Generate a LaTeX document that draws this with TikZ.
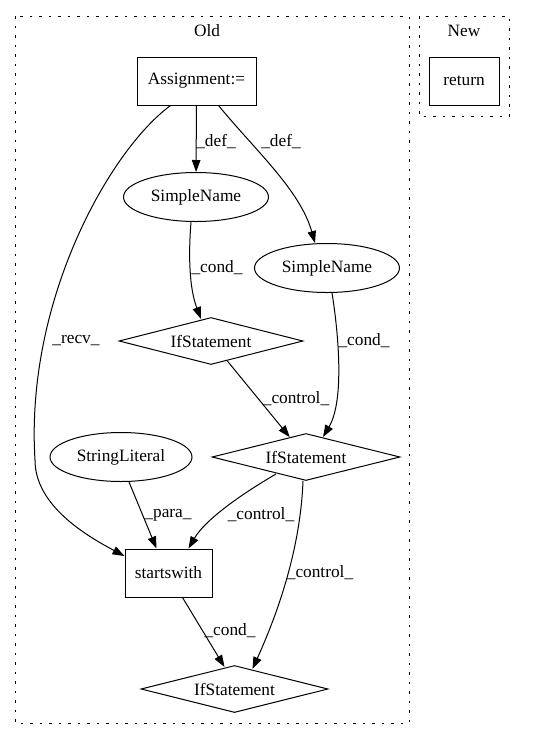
\documentclass[tikz,border=0pt]{standalone}
\usepackage{fontspec}
\setmainfont{Liberation Serif}
\usetikzlibrary{arrows.meta,shapes.geometric}

\begin{document}
\begin{tikzpicture}[x=1pt,y=-1pt,
		every node/.style={font=\fontsize{17.3}{20}\selectfont},
		box/.style={draw,line width=1pt,minimum height=48pt,inner sep=0pt},
		oval/.style={draw,ellipse,line width=1pt,minimum height=49pt,inner sep=0pt},
		cond/.style={draw,diamond,shape aspect=3.9,line width=1pt,minimum height=47pt,inner sep=0pt},
		cluster/.style={line width=1pt,dash pattern=on 2.5pt off 7pt},
		edge/.style={line width=1pt,-{Triangle[length=12pt,width=8.5pt]}},
		lbl/.style={inner sep=0pt}]
		\useasboundingbox (0,0) rectangle (553,740);

		\draw[cluster] (15,16) rectangle (409,723);
		\node (old) at (207,31) {Old};

		\draw[cluster] (419,16) rectangle (509,116);
		\node (new) at (464,31) {New};

		\node[box, minimum width=70pt] (ret) at (464,81) {return};

		\node[box, minimum width=119pt] (assign) at (196.5,81) {Assignment:=};
		\node[oval, minimum width=145pt] (sn1) at (196,197) {SimpleName};
		\node[oval, minimum width=145pt] (sn2) at (327,268) {SimpleName};
		\node[cond, minimum width=184pt] (if1) at (211,341) {IfStatement};
		\node[cond, minimum width=188pt] (if2) at (306,457) {IfStatement};
		\node[oval, minimum width=142pt] (sl) at (121,457) {StringLiteral};
		\node[box, minimum width=87pt] (sw) at (168.5,573) {startswith};
		\node[cond, minimum width=187pt] (if3) at (234.5,689) {IfStatement};

		\draw[edge] (assign) -- (sn1);
		\node[lbl] (ldef1) at (216,142) {\_def\_};

		\draw[edge] ([xshift=22pt]assign.south) .. controls (255,150) and (300,190) .. ([xshift=-12pt]sn2.north);
		\node[lbl] (ldef2) at (281,142) {\_def\_};

		\draw[edge] ([xshift=-26pt]assign.south) .. controls (110,150) and (25,300) .. (35,460)
			.. controls (35,505) and (85,535) .. ([yshift=17pt]sw.west);
		\node[lbl] (lrecv) at (76,341) {\_recv\_};

		\draw[edge] ([xshift=-5pt]sn1.south) .. controls (188,260) and (190,290) .. ([xshift=-10pt,yshift=-2pt]if1.north);
		\node[lbl] (lcond1) at (217,268) {\_cond\_};

		\draw[edge] ([xshift=5pt]sn2.south) .. controls (338,330) and (345,400) .. ([xshift=17pt,yshift=-4pt]if2.north);
		\node[lbl] (lcond2) at (364,341) {\_cond\_};

		\draw[edge] (if1) -- (if2);
		\node[lbl] (lctrl1) at (296,399) {\_control\_};

		\draw[edge] ([xshift=-30pt,yshift=7pt]if2.south) .. controls (240,495) and (205,520) .. ([xshift=20pt]sw.north);
		\node[lbl] (lctrl2) at (261,515) {\_control\_};

		\draw[edge] ([xshift=8pt]sl.south) -- ([xshift=-12pt]sw.north);
		\node[lbl] (lpara) at (168,515) {\_para\_};

		\draw[edge] ([xshift=-3pt]if2.south) .. controls (300,560) and (270,630) .. ([xshift=18pt,yshift=-4pt]if3.north);
		\node[lbl] (lctrl3) at (320,573) {\_control\_};

		\draw[edge] ([xshift=14pt]sw.south) -- ([xshift=-10pt,yshift=-2pt]if3.north);
		\node[lbl] (lcond3) at (230,631) {\_cond\_};
	\end{tikzpicture}
\end{document}
